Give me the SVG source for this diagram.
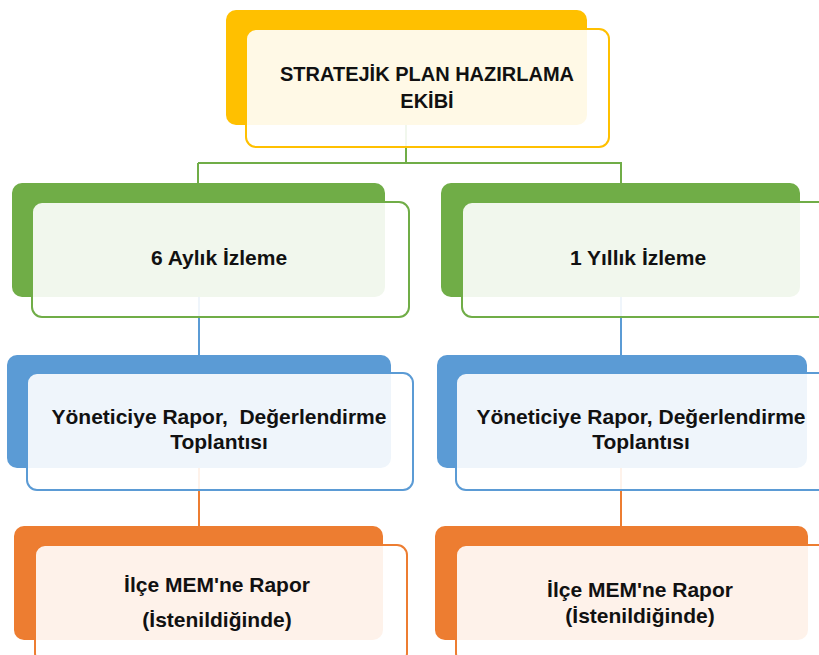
<svg xmlns="http://www.w3.org/2000/svg" width="819" height="655" viewBox="0 0 819 655">
<style>
.t{font-family:"Liberation Sans",Arial,sans-serif;font-weight:bold;font-size:21px;fill:#111;text-anchor:middle}
.front{fill:#fff;fill-opacity:0.9;stroke-width:2}
.c{fill:none;stroke-width:2}
</style>
<rect width="819" height="655" fill="#fff"/>
<g id="connectors">
<path class="c" stroke="#70AD47" d="M406 125V163M198 163H622M198 163V183M621 163V183"/>
<path class="c" stroke="#5B9BD5" d="M199 297V355M621 297V355"/>
<path class="c" stroke="#ED7D31" d="M199 468V526M621 468V526"/>
</g>
<g id="top">
<rect x="226" y="10" width="361" height="115" rx="10" fill="#FFC000"/>
<rect class="front" x="246" y="29" width="363" height="118" rx="10" stroke="#FFC000"/>
<text class="t" style="font-size:20px" x="427" y="81">STRATEJİK PLAN HAZIRLAMA</text>
<text class="t" style="font-size:20px" x="427" y="108">EKİBİ</text>
</g>
<g id="g6">
<rect x="12" y="183" width="373" height="114" rx="10" fill="#70AD47"/>
<rect class="front" x="32" y="202" width="377" height="115" rx="10" stroke="#70AD47"/>
<text class="t" x="219" y="265">6 Aylık İzleme</text>
</g>
<g id="g1">
<rect x="441" y="183" width="359" height="114" rx="10" fill="#70AD47"/>
<rect class="front" x="462" y="202" width="377" height="115" rx="10" stroke="#70AD47"/>
<text class="t" x="638" y="265">1 Yıllık İzleme</text>
</g>
<g id="b6">
<rect x="7" y="355" width="384" height="113" rx="10" fill="#5B9BD5"/>
<rect class="front" x="27" y="373" width="386" height="117" rx="10" stroke="#5B9BD5"/>
<text class="t" x="219" y="424" xml:space="preserve">Yöneticiye Rapor,  Değerlendirme</text>
<text class="t" x="219" y="449">Toplantısı</text>
</g>
<g id="b1">
<rect x="437" y="355" width="370" height="113" rx="10" fill="#5B9BD5"/>
<rect class="front" x="456" y="373" width="386" height="117" rx="10" stroke="#5B9BD5"/>
<text class="t" x="641" y="424">Yöneticiye Rapor, Değerlendirme</text>
<text class="t" x="641" y="449">Toplantısı</text>
</g>
<g id="o6">
<rect x="14" y="526" width="369" height="114" rx="10" fill="#ED7D31"/>
<rect class="front" x="35" y="545" width="372" height="118" rx="10" stroke="#ED7D31"/>
<text class="t" x="217" y="592">İlçe MEM'ne Rapor</text>
<text class="t" x="217" y="627">(İstenildiğinde)</text>
</g>
<g id="o1">
<rect x="435" y="526" width="373" height="114" rx="10" fill="#ED7D31"/>
<rect class="front" x="456" y="545" width="386" height="118" rx="10" stroke="#ED7D31"/>
<text class="t" x="640" y="597">İlçe MEM'ne Rapor</text>
<text class="t" x="640" y="623">(İstenildiğinde)</text>
</g>
</svg>
